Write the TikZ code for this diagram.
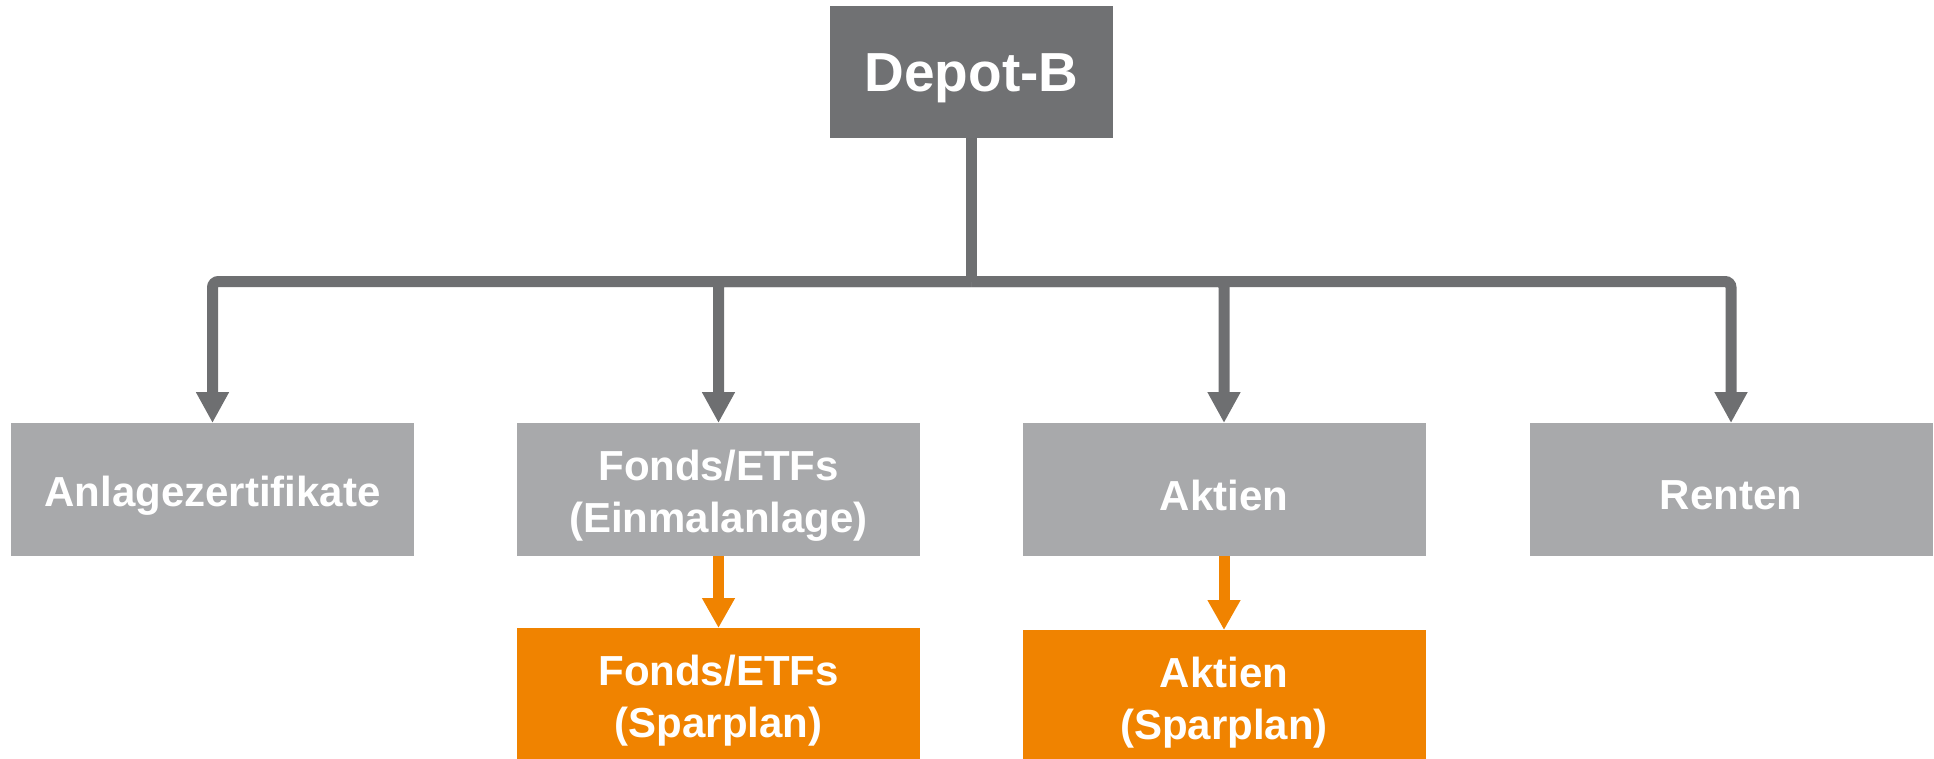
\documentclass[tikz,border=0pt]{standalone}
\usepackage{fontspec}
\setmainfont{Liberation Sans}
\usetikzlibrary{arrows.meta}
\definecolor{dgray}{HTML}{707173}
\definecolor{lgray}{HTML}{A8A9AB}
\definecolor{cgray}{HTML}{6E6F71}
\definecolor{dorange}{HTML}{F08300}
\tikzset{
  box/.style={inner sep=0pt, outer sep=0pt, minimum width=403pt, minimum height=133pt},
  txt/.style={inner sep=0pt, align=center, text=white, yshift=-6pt,
    font=\bfseries\fontsize{42}{52}\selectfont},
  toptxt/.style={txt, font=\bfseries\fontsize{55}{60}\selectfont},
  topbox/.style={box, fill=dgray, minimum width=283pt, minimum height=132pt},
  graybox/.style={box, fill=lgray},
  orangebox/.style={box, fill=dorange},
  conn/.style={draw=cgray, line width=11pt, rounded corners=6pt},
  tree/.style={conn, -{Triangle[width=31pt,length=31pt]}},
  orangearrow/.style={draw=dorange, line width=11pt, -{Triangle[width=31pt,length=30pt]}}
}
\begin{document}
\begin{tikzpicture}[x=1pt,y=-1pt]
\useasboundingbox (0,0) rectangle (1934,759);
\node[topbox, label={[toptxt]center:Depot-B}] (depot) at (971.5,72) {};
\node[graybox, label={[txt]center:Anlagezertifikate}] (c1) at (212.5,489.5) {};
\node[graybox, label={[txt]center:Fonds/ETFs\\(Einmalanlage)}] (c2) at (718.5,489.5) {};
\node[graybox, label={[txt]center:Aktien}] (c3) at (1224,489.5) {};
\node[graybox, label={[txt]center:Renten}] (c4) at (1731,489.5) {};
\node[orangebox, label={[txt]center:Fonds/ETFs\\(Sparplan)}] (o2) at (718.5,694.5) {};
\node[orangebox, label={[txt]center:Aktien\\(Sparplan)}] (o3) at (1224,696.5) {};
\coordinate (bar) at (971.5,281.5);
\draw[conn] (depot.south) -- (bar);
\draw[tree] (bar) -| (c1.north);
\draw[tree] (bar) -| (c2.north);
\draw[tree] (bar) -| (c3.north);
\draw[tree] (bar) -| (c4.north);
\draw[orangearrow] (c2.south) -- (o2.north);
\draw[orangearrow] (c3.south) -- (o3.north);
\end{tikzpicture}
\end{document}
